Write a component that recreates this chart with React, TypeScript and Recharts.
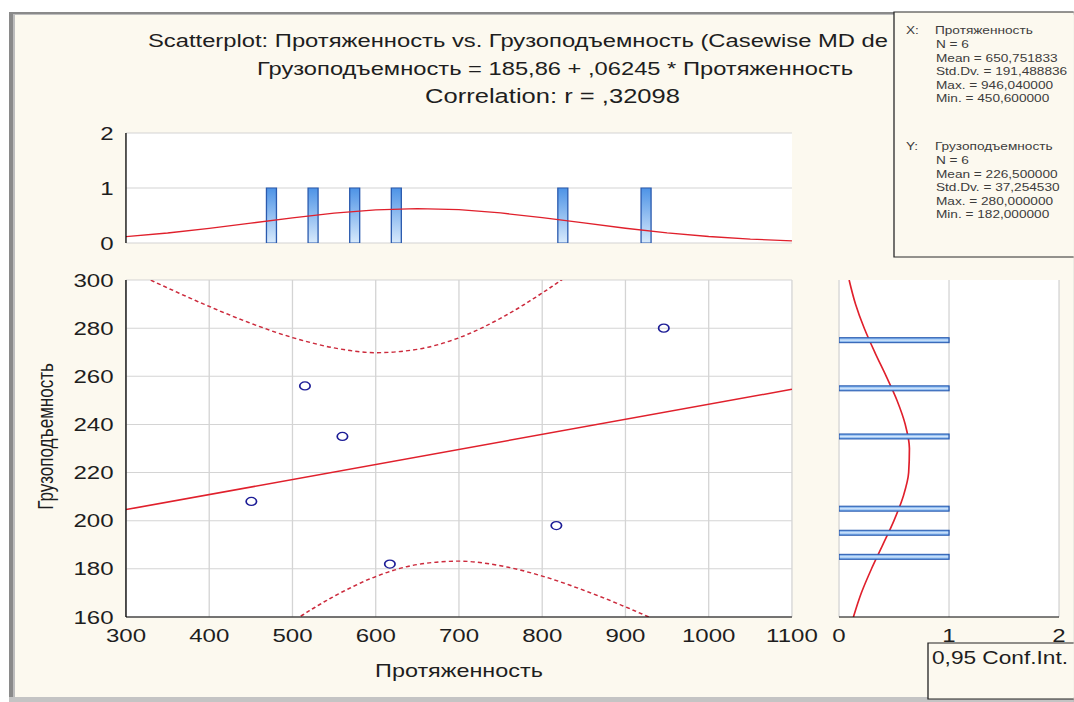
import { Bar, CartesianGrid, ComposedChart, Label, Line, Scatter, XAxis, YAxis } from "recharts"

// the reference screenshot is stretched sideways, so everything is laid out narrow and scaled in x
const STRETCH = 1.3
const PAGE_W = 1074 / STRETCH
const u = (px: number) => px / STRETCH
const FONT = "'Liberation Sans', Arial, sans-serif"
const BG = "#fcf9ef"
const RED = "#e0202c"
const BLUE_EDGE = "#2a5aae"

// observations
const lengthVals = [450.6, 515, 560, 617, 817, 946.04]
const capacityVals = [208, 256, 235, 182, 198, 280]

// regression line ends
const fitX = [300, 1100]
const fitY = [204.6, 254.6]

// 0,95 confidence band, read along x
const bandX = [300, 350, 400, 450, 500, 550, 600, 650, 700, 750, 800, 850, 900, 950, 1000, 1050, 1100]
const bandUpper = [304.8, 296.7, 289.0, 282.0, 276.1, 271.8, 269.8, 271.2, 276.0, 284.1, 294.6, 306.7, 320.0, 333.8, 348.2, 362.9, 377.9]
const bandLower = [104.4, 118.7, 132.6, 145.9, 158.1, 168.6, 176.8, 181.8, 183.2, 181.3, 177.0, 171.1, 164.2, 156.6, 148.4, 139.9, 131.3]

// top histogram (Протяженность)
const xDensity = [0.117, 0.182, 0.265, 0.361, 0.458, 0.544, 0.603, 0.625, 0.605, 0.546, 0.461, 0.364, 0.268, 0.184, 0.118, 0.071, 0.04]
const xBins = [475, 525, 575, 625, 825, 925]
const xCounts = [1, 1, 1, 1, 1, 1]

// side histogram (Грузоподъемность)
const yLevels = [160, 170, 180, 190, 200, 210, 220, 230, 240, 250, 260, 270, 280, 290, 300]
const yDensity = [0.131, 0.203, 0.295, 0.398, 0.499, 0.583, 0.633, 0.64, 0.602, 0.527, 0.429, 0.325, 0.229, 0.15, 0.092]
const yBins = [185, 195, 205, 235, 255, 275]
const yCounts = [1, 1, 1, 1, 1, 1]

const xTicks = [300, 400, 500, 600, 700, 800, 900, 1000, 1100]
const yTicks = [160, 180, 200, 220, 240, 260, 280, 300]
const countTicks = [0, 1, 2]

const titleLines = [
  "Scatterplot: Протяженность vs. Грузоподъемность (Casewise MD de",
  "Грузоподъемность = 185,86 + ,06245 * Протяженность",
  "Correlation: r = ,32098",
]
const statsX = ["N = 6", "Mean = 650,751833", "Std.Dv. = 191,488836", "Max. = 946,040000", "Min. = 450,600000"]
const statsY = ["N = 6", "Mean = 226,500000", "Std.Dv. = 37,254530", "Max. = 280,000000", "Min. = 182,000000"]

const range = (from: number, to: number, step: number) => {
  const out: number[] = []
  for (let v = from; v <= to + 1e-9; v += step) out.push(v)
  return out
}
const minorX = range(300, 1100, 20)
const minorY = range(160, 300, 4)

const points = lengthVals.map((x, i) => ({ x, y: capacityVals[i] }))
const fitLine = fitX.map((x, i) => ({ x, fit: fitY[i] }))
const band = bandX.map((x, i) => ({ x, upper: bandUpper[i], lower: bandLower[i] }))
const topCurve = bandX.map((x, i) => ({ x, dens: xDensity[i] }))
const topBars = xBins.map((x, i) => ({ x, n: xCounts[i] }))
const sideCurve = yLevels.map((y, i) => ({ y, dens: yDensity[i] }))
const sideBars = yBins.map((y, i) => ({ y, n: yCounts[i] }))

const tickFont = { fill: "#1e1e1e", fontSize: 18.5, fontFamily: FONT }
const frame = { stroke: "#000", strokeWidth: 1 }

const SIDE_LEFT = 25.4 // left edge of the side plot (margin.left, y axis has no width)

const Ring = (props: any) => (
  <circle cx={props.cx} cy={props.cy} r={4} fill="none" stroke="#1c1c96" strokeWidth={1.3} />
)

// horizontal histogram bar from the plot's left edge out to the scaled count
const SideBar = (props: any) => (
  <rect
    x={SIDE_LEFT}
    y={props.cy - 2.5}
    width={Math.max(0, props.cx - SIDE_LEFT)}
    height={5}
    fill="url(#sideFill)"
    stroke={BLUE_EDGE}
    strokeWidth={1}
  />
)

const YTitle = (props: any) => {
  const vb = props.viewBox || { x: 10, y: 20, height: 337 }
  const cx = vb.x + 24.6
  const cy = vb.y + vb.height / 2 - 12
  return (
    <text
      x={cx}
      y={cy}
      transform={`rotate(-90 ${cx} ${cy})`}
      textAnchor="middle"
      dominantBaseline="central"
      fill="#1e1e1e"
      fontSize={17}
      fontFamily={FONT}
    >
      Грузоподъемность
    </text>
  )
}

function MainPlot() {
  return (
    <ComposedChart width={640} height={430} margin={{ top: 20, right: 30.8, bottom: 9, left: 10 }}>
      <CartesianGrid fill="#fff" stroke="#d4d4d4" />
      <XAxis
        type="number"
        dataKey="x"
        domain={[300, 1100]}
        ticks={xTicks}
        interval={0}
        allowDataOverflow
        height={64}
        tickSize={0}
        tickMargin={12}
        axisLine={frame}
        tick={tickFont}
      >
        <Label value="Протяженность" position="insideBottom" offset={4} fill="#1e1e1e" fontSize={18} fontFamily={FONT} />
      </XAxis>
      <XAxis xAxisId="minB" type="number" domain={[300, 1100]} ticks={minorX} interval={0} allowDataOverflow orientation="bottom" mirror height={0} tick={false} tickSize={4} axisLine={false} tickLine={frame} />
      <XAxis xAxisId="minT" type="number" domain={[300, 1100]} ticks={minorX} interval={0} allowDataOverflow orientation="top" mirror height={0} tick={false} tickSize={4} axisLine={frame} tickLine={frame} />
      <YAxis
        type="number"
        dataKey="y"
        domain={[160, 300]}
        ticks={yTicks}
        interval={0}
        allowDataOverflow
        width={86.9}
        tickSize={0}
        tickMargin={9.5}
        axisLine={frame}
        tick={tickFont}
      >
        <Label content={YTitle} />
      </YAxis>
      <YAxis yAxisId="minL" type="number" domain={[160, 300]} ticks={minorY} interval={0} allowDataOverflow orientation="left" mirror width={0} tick={false} tickSize={4} axisLine={false} tickLine={frame} />
      <YAxis yAxisId="minR" type="number" domain={[160, 300]} ticks={minorY} interval={0} allowDataOverflow orientation="right" mirror width={0} tick={false} tickSize={4} axisLine={frame} tickLine={frame} />
      <Line data={band} dataKey="upper" type="monotone" stroke="#cc2a3c" strokeWidth={1.4} strokeDasharray="3.2 2.4" dot={false} isAnimationActive={false} />
      <Line data={band} dataKey="lower" type="monotone" stroke="#cc2a3c" strokeWidth={1.4} strokeDasharray="3.2 2.4" dot={false} isAnimationActive={false} />
      <Line data={fitLine} dataKey="fit" type="linear" stroke={RED} strokeWidth={1.5} dot={false} isAnimationActive={false} />
      <Scatter data={points} dataKey="y" shape={Ring} isAnimationActive={false} />
    </ComposedChart>
  )
}

function TopHistogram() {
  return (
    <ComposedChart width={640} height={150} data={topBars} margin={{ top: 20, right: 30.8, bottom: 20, left: 10 }}>
      <defs>
        <linearGradient id="topFill" x1="0" y1="0" x2="0" y2="1">
          <stop offset="0%" stopColor="#4d93e6" />
          <stop offset="100%" stopColor="#d8eafc" />
        </linearGradient>
      </defs>
      <CartesianGrid fill="#fff" stroke="#d4d4d4" vertical={false} />
      <XAxis type="number" dataKey="x" domain={[300, 1100]} ticks={xTicks} interval={0} allowDataOverflow orientation="bottom" mirror height={0} tick={false} tickSize={3} axisLine={frame} tickLine={frame} />
      <XAxis xAxisId="top" type="number" domain={[300, 1100]} ticks={xTicks} interval={0} allowDataOverflow orientation="top" mirror height={0} tick={false} tickSize={3} axisLine={frame} tickLine={frame} />
      <YAxis type="number" domain={[0, 2]} ticks={countTicks} interval={0} allowDataOverflow width={86.9} tickSize={0} tickMargin={9.5} axisLine={frame} tick={tickFont} />
      <YAxis yAxisId="right" type="number" domain={[0, 2]} ticks={countTicks} allowDataOverflow orientation="right" mirror width={0} tick={false} tickSize={3} axisLine={frame} tickLine={frame} />
      <Bar dataKey="n" barSize={7.7} fill="url(#topFill)" stroke={BLUE_EDGE} strokeWidth={1} isAnimationActive={false} />
      <Line data={topCurve} dataKey="dens" type="linear" stroke={RED} strokeWidth={1.3} dot={false} isAnimationActive={false} />
    </ComposedChart>
  )
}

function SideHistogram() {
  // in a vertical layout the numeric y axis runs top-down, so it is reversed to put 160 at the bottom
  return (
    <ComposedChart layout="vertical" width={PAGE_W - 620} height={430} margin={{ top: 20, right: 11.5, bottom: 9, left: SIDE_LEFT }}>
      <defs>
        <linearGradient id="sideFill" x1="0" y1="0" x2="0" y2="1">
          <stop offset="0%" stopColor="#4f92e2" />
          <stop offset="50%" stopColor="#d4e7fc" />
          <stop offset="100%" stopColor="#4f92e2" />
        </linearGradient>
      </defs>
      <CartesianGrid fill="#fff" stroke="#d4d4d4" horizontal={false} />
      <XAxis type="number" dataKey="n" domain={[0, 2]} ticks={countTicks} interval={0} allowDataOverflow height={64} tickSize={0} tickMargin={12} axisLine={frame} tick={tickFont} />
      <XAxis xAxisId="top" type="number" domain={[0, 2]} ticks={countTicks} allowDataOverflow orientation="top" mirror height={0} tick={false} tickLine={false} axisLine={frame} />
      <YAxis type="number" dataKey="y" domain={[160, 300]} ticks={yTicks} reversed allowDataOverflow width={0} tick={false} tickLine={false} axisLine={frame} />
      <YAxis yAxisId="right" type="number" domain={[160, 300]} ticks={yTicks} reversed interval={0} allowDataOverflow orientation="right" mirror width={0} tick={false} tickSize={4} axisLine={frame} tickLine={frame} />
      <Scatter data={sideBars} dataKey="n" shape={SideBar} isAnimationActive={false} />
      <Line data={sideCurve} dataKey="dens" type="monotone" stroke={RED} strokeWidth={1.3} dot={false} isAnimationActive={false} />
    </ComposedChart>
  )
}

export default function App() {
  const statsText = { fontSize: 10.5, fill: "#3c3c3c", fontFamily: FONT }
  return (
    <div
      style={{
        position: "fixed",
        left: 0,
        top: 0,
        width: PAGE_W,
        height: 702,
        background: "#fff",
        transform: `scaleX(${STRETCH})`,
        transformOrigin: "0 0",
        overflow: "hidden",
        fontFamily: FONT,
      }}
    >
      <svg style={{ position: "absolute", left: 0, top: 0 }} width={PAGE_W} height={702}>
        <rect x={u(9)} y={12} width={PAGE_W} height={690} fill="#8a8a8a" />
        <rect x={u(13)} y={14} width={PAGE_W} height={684} fill="#bdbdbd" />
        <rect x={u(15)} y={15} width={PAGE_W} height={682} fill={BG} />
        <rect x={u(9)} y={697} width={PAGE_W} height={5} fill="#c4c4c4" />
      </svg>

      <div style={{ position: "absolute", left: 0, top: 113 }}>
        <TopHistogram />
      </div>
      <div style={{ position: "absolute", left: 0, top: 260 }}>
        <MainPlot />
      </div>
      <div style={{ position: "absolute", left: 620, top: 260 }}>
        <SideHistogram />
      </div>

      <svg style={{ position: "absolute", left: 0, top: 0, pointerEvents: "none" }} width={PAGE_W} height={702}>
        <g fontFamily={FONT} fill="#1e1e1e">
          <text x={u(148)} y={47} fontSize={18.7} textLength={u(740)} lengthAdjust="spacingAndGlyphs">{titleLines[0]}</text>
          <text x={u(257)} y={75} fontSize={18.4} textLength={u(596)} lengthAdjust="spacingAndGlyphs">{titleLines[1]}</text>
          <text x={u(425)} y={103} fontSize={19.5} textLength={u(255)} lengthAdjust="spacingAndGlyphs">{titleLines[2]}</text>
        </g>

        <rect x={u(894)} y={12} width={200} height={245} fill={BG} stroke="#2a2a2a" strokeWidth={1} />
        <text x={u(906)} y={34} {...statsText}>X:</text>
        <text x={u(935)} y={34} {...statsText}>Протяженность</text>
        {statsX.map((s, i) => (
          <text key={s} x={u(936)} y={48 + i * 13.6} {...statsText}>{s}</text>
        ))}
        <text x={u(906)} y={150} {...statsText}>Y:</text>
        <text x={u(935)} y={150} {...statsText}>Грузоподъемность</text>
        {statsY.map((s, i) => (
          <text key={s} x={u(936)} y={164 + i * 13.6} {...statsText}>{s}</text>
        ))}

        <rect x={u(928)} y={643} width={200} height={56} fill={BG} stroke="#222" strokeWidth={1} />
        <text x={u(932)} y={664} fontSize={17.6} fill="#1e1e1e" fontFamily={FONT} textLength={u(136)} lengthAdjust="spacingAndGlyphs">
          0,95 Conf.Int.
        </text>
      </svg>
    </div>
  )
}
